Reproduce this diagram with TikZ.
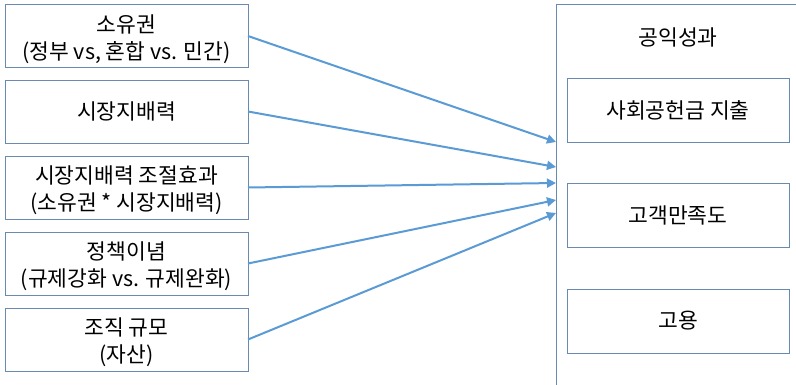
\documentclass[tikz,border=0pt]{standalone}
\usepackage{fontspec}
\setmainfont{Noto Sans CJK KR}
\usetikzlibrary{arrows.meta}
\definecolor{boxline}{RGB}{104,138,176}
\definecolor{arrowblue}{RGB}{91,155,213}
\begin{document}
\begin{tikzpicture}[x=1pt,y=-1pt,
  every node/.style={inner sep=0pt,outer sep=0pt},
  label/.style={font=\fontsize{21.5}{27}\selectfont,align=center},
  factor/.style={draw=boxline,line width=0.9pt,fill=white,minimum width=243pt,
    minimum height=63pt},
  outcome/.style={label,draw=boxline,line width=0.9pt,fill=white,minimum width=222pt,
    minimum height=64pt},
  link/.style={draw=arrowblue,line width=2pt,-{Triangle[width=9pt,length=9pt]}}]
\useasboundingbox (0,0) rectangle (796,385);
\clip (0,0) rectangle (796,385);
\fill[white] (0,0) rectangle (796,385);

% outcome frame, running past the right and bottom edges
\draw[boxline,line width=0.9pt] (556,4) rectangle (820,400);
\node[label] (title) at (678,37) {공익성과};
\node[outcome] (o1) at (678,110.5) {사회공헌금 지출};
\node[outcome] (o2) at (678,215) {고객만족도};
\node[outcome] (o3) at (678,321) {고용};

% explanatory factors: boxes, then their texts
\node[factor] (f1) at (126.5,36)    {};
\node[factor] (f2) at (126.5,111.5) {};
\node[factor] (f3) at (126.5,187.5) {};
\node[factor] (f4) at (126.5,263.5) {};
\node[factor] (f5) at (126.5,339.5) {};
\node[label] (l1) at ([yshift=-3pt]f1.center) {소유권\\(정부 vs, 혼합 vs. 민간)};
\node[label] (l2) at (f2.center) {시장지배력};
\node[label] (l3) at ([yshift=-3pt]f3.center) {시장지배력 조절효과\\(소유권 * 시장지배력)};
\node[label] (l4) at ([yshift=-3pt]f4.center) {정책이념\\(규제강화 vs. 규제완화)};
\node[label] (l5) at ([yshift=-3pt]f5.center) {조직 규모\\(자산)};

% arrow targets on the frame's left side
\coordinate (t1) at (556,142);
\coordinate (t2) at (556,167);
\coordinate (t3) at (556,183);
\coordinate (t4) at (556,200);
\coordinate (t5) at (556,213);

\draw[link] (f1.east) -- (t1);
\draw[link] (f2.east) -- (t2);
\draw[link] (f3.east) -- (t3);
\draw[link] (f4.east) -- (t4);
\draw[link] (f5.east) -- (t5);
\end{tikzpicture}
\end{document}
